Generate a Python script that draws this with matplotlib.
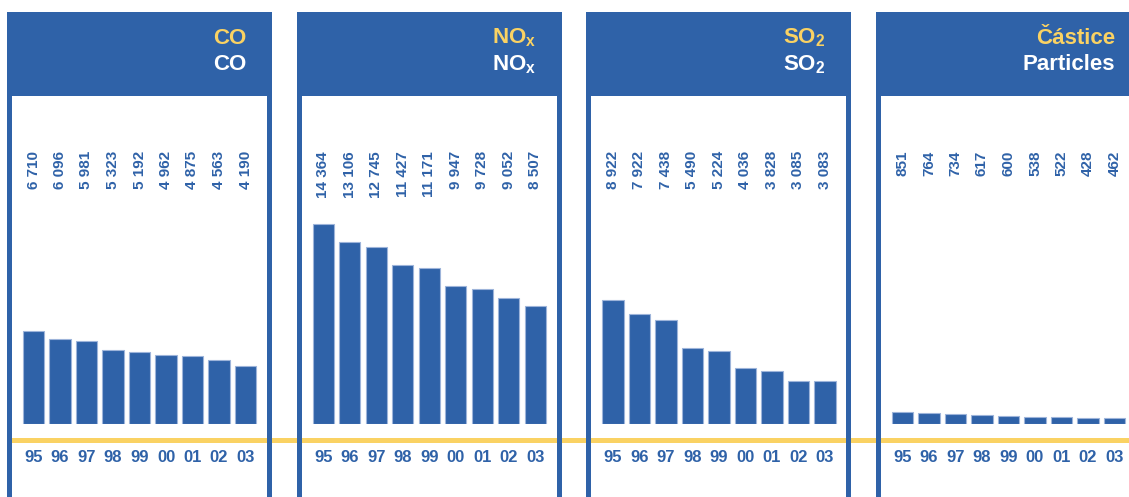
import matplotlib
matplotlib.use('Agg')
import matplotlib.pyplot as plt
from matplotlib.patches import Rectangle

# ---- data ----
years = ['95', '96', '97', '98', '99', '00', '01', '02', '03']
co = [6710, 6096, 5981, 5323, 5192, 4962, 4875, 4563, 4190]
nox = [14364, 13106, 12745, 11427, 11171, 9947, 9728, 9052, 8507]
so2 = [8922, 7922, 7438, 5490, 5224, 4036, 3828, 3085, 3083]
particles = [851, 764, 734, 617, 600, 538, 522, 428, 462]
titles_cz = ['CO', 'NO$_\\mathrm{x}$', 'SO$_\\mathrm{2}$', 'Částice']
titles_en = ['CO', 'NO$_\\mathrm{x}$', 'SO$_\\mathrm{2}$', 'Particles']
series = [co, nox, so2, particles]

# ---- style ----
BLUE = '#2f62a8'
EDGE = '#9db4da'
YELLOW = '#fad263'
FONT = 'Liberation Sans'
plt.rcParams['font.family'] = [FONT, 'DejaVu Sans']
plt.rcParams['mathtext.fontset'] = 'custom'
plt.rcParams['mathtext.rm'] = 'Liberation Sans:bold'
plt.rcParams['mathtext.it'] = 'Liberation Sans:bold'
plt.rcParams['mathtext.bf'] = 'Liberation Sans:bold'

W, H = 1129, 497
fig = plt.figure(figsize=(W / 100, H / 100), dpi=100)

bg = fig.add_axes([0, 0, 1, 1])
bg.set_xlim(0, W)
bg.set_ylim(H, 0)
bg.axis('off')

panel_lefts = [7, 296.7, 586.4, 876]
panel_w = 265
header_top, header_bot = 12, 96
base_y = 424
yellow_y = 440.5
px_per_unit = 200 / 14364.0

# yellow baseline across the figure
bg.add_patch(Rectangle((panel_lefts[0], yellow_y - 2.5), W - panel_lefts[0], 5,
                       color=YELLOW, lw=0, zorder=1))

for i, pl in enumerate(panel_lefts):
    # header
    bg.add_patch(Rectangle((pl, header_top), panel_w, header_bot - header_top,
                           color=BLUE, lw=0, zorder=2))
    # side lines
    bg.add_patch(Rectangle((pl, header_bot), 5, H - header_bot, color=BLUE, lw=0, zorder=3))
    bg.add_patch(Rectangle((pl + panel_w - 5, header_bot), 5, H - header_bot,
                           color=BLUE, lw=0, zorder=3))
    # titles
    bg.text(pl + 239, 38, titles_cz[i], color=YELLOW, fontsize=16, fontweight='bold',
            ha='right', va='center', zorder=4)
    bg.text(pl + 239, 64.5, titles_en[i], color='white', fontsize=16, fontweight='bold',
            ha='right', va='center', zorder=4)

    # bars axes
    ax = fig.add_axes([pl / W, (H - base_y) / H, panel_w / W, (base_y - header_bot) / H])
    ax.set_xlim(-1, 9)
    ax.set_ylim(0, (base_y - header_bot) / px_per_unit)
    ax.axis('off')
    ax.patch.set_alpha(0)
    vals = series[i]
    x = list(range(len(years)))
    ax.bar(x, vals, width=0.8, color=BLUE, edgecolor=EDGE, linewidth=0.8)
    tr = ax.get_xaxis_transform()
    top_frac = (base_y - 151) / (base_y - header_bot)
    year_frac = (base_y - 458) / (base_y - header_bot)
    for xi, v in zip(x, vals):
        ax.text(xi, top_frac, f"{v:,}".replace(',', ' '), transform=tr, rotation=90,
                ha='center', va='top', color=BLUE, fontsize=11, fontweight='bold',
                clip_on=False)
    for xi, yl in zip(x, years):
        ax.text(xi, year_frac, yl, transform=tr, ha='center', va='center',
                color=BLUE, fontsize=12, fontweight='bold', clip_on=False)

fig.savefig('out.png', dpi=100)
